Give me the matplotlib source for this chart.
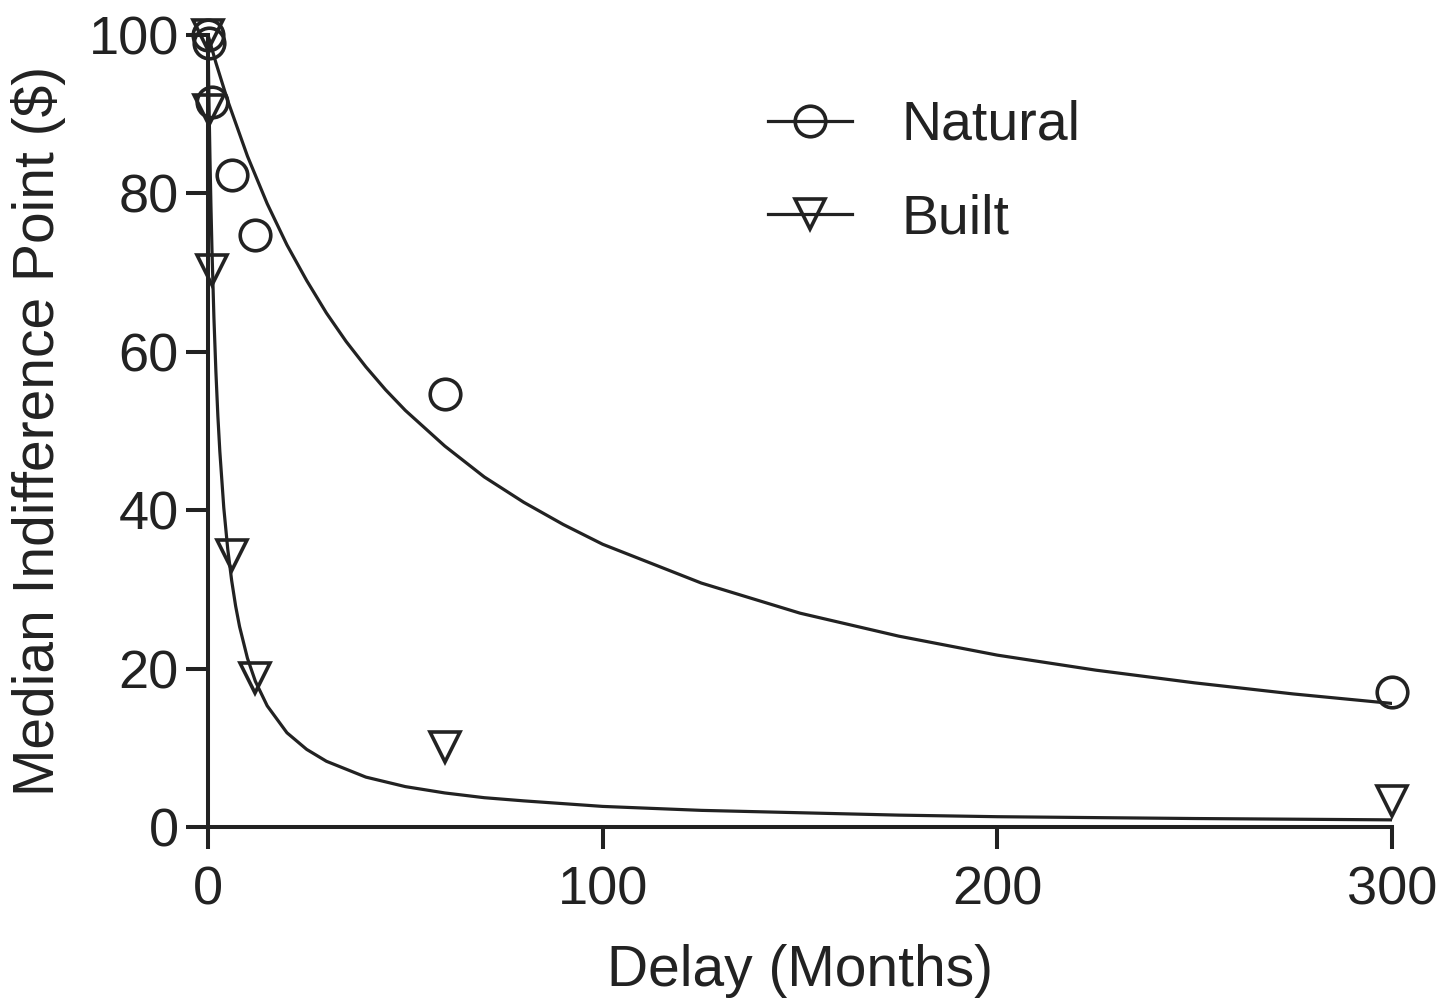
import numpy as np
import matplotlib
matplotlib.use("Agg")
import matplotlib.pyplot as plt

# observed median indifference points (delay in months)
natural_delay = [0.03, 0.25, 1, 6, 12, 60, 300]
natural_value = [100, 99, 91.5, 82.3, 74.7, 54.7, 17.1]
built_delay = [0.03, 0.25, 1, 6, 12, 60, 300]
built_value = [100, 90.5, 70.3, 34.3, 18.8, 10.1, 3.3]

# fitted curves
natural_fit_x = [0, 2, 5, 10, 15, 20, 25, 30, 35, 40, 45, 50, 60, 70, 80, 90, 100,
                 125, 150, 175, 200, 225, 250, 275, 300]
natural_fit_y = [100, 96.5, 91.7, 84.7, 78.7, 73.5, 69.0, 64.9, 61.3, 58.1, 55.2,
                 52.6, 48.1, 44.2, 41.0, 38.2, 35.7, 30.8, 27.0, 24.1, 21.7, 19.8,
                 18.2, 16.8, 15.6]
built_fit_x = [0, 0.1, 0.25, 0.5, 0.75, 1, 1.5, 2, 2.5, 3, 4, 5, 6, 7, 8, 10, 12,
               15, 20, 25, 30, 40, 50, 60, 70, 80, 100, 125, 150, 175, 200, 250, 300]
built_fit_y = [100, 96.4, 91.5, 84.4, 78.3, 73.0, 64.3, 57.5, 51.9, 47.4, 40.3,
               35.1, 31.1, 27.9, 25.3, 21.3, 18.4, 15.3, 11.9, 9.8, 8.3, 6.3, 5.1,
               4.3, 3.7, 3.3, 2.6, 2.1, 1.8, 1.5, 1.3, 1.07, 0.9]

ink = '#222222'
plt.rcParams['font.family'] = ['Liberation Sans', 'DejaVu Sans']

fig = plt.figure(figsize=(14.56, 10), dpi=100)
ax = fig.add_axes([208/1456, 1 - 827/1000, (1392 - 208)/1456, (827 - 35)/1000])

ax.plot(natural_fit_x, natural_fit_y, color=ink, lw=2.3)
ax.plot(built_fit_x, built_fit_y, color=ink, lw=2.3)
ax.plot(natural_delay, natural_value, linestyle='none', marker='o', ms=22,
        mfc='none', mec=ink, mew=2.6, clip_on=False)
ax.plot(built_delay, built_value, linestyle='none', marker='v', ms=22,
        mfc='none', mec=ink, mew=2.6, clip_on=False)

# legend handles
h1, = ax.plot([], [], color=ink, lw=2.3, marker='o', ms=22, mfc='none', mec=ink, mew=2.6)
h2, = ax.plot([], [], color=ink, lw=2.3, marker='v', ms=22, mfc='none', mec=ink, mew=2.6)
leg = ax.legend([h1, h2], ['Natural', 'Built'], loc='upper left',
                bbox_to_anchor=(768/1456, 1 - 100/1000), bbox_transform=fig.transFigure,
                frameon=False, fontsize=40, handlelength=1.52, handletextpad=0.88,
                labelspacing=0.75, borderpad=0, borderaxespad=0)
for t in leg.get_texts():
    t.set_color(ink)

ax.set_xlim(0, 300)
ax.set_ylim(0, 100)
ax.set_xticks([0, 100, 200, 300])
ax.set_yticks([0, 20, 40, 60, 80, 100])
for s in ['top', 'right']:
    ax.spines[s].set_visible(False)
for s in ['left', 'bottom']:
    ax.spines[s].set_linewidth(2.9)
    ax.spines[s].set_color(ink)
ax.tick_params(length=16, width=2.9, color=ink, labelsize=39, labelcolor=ink)
ax.tick_params(axis='x', pad=12)
ax.tick_params(axis='y', pad=5)

ax.set_xlabel('Delay (Months)', fontsize=41, color=ink, labelpad=20)
ax.set_ylabel('Median Indifference Point ($)', fontsize=41, color=ink, labelpad=16)

fig.savefig('out.png', dpi=100)
